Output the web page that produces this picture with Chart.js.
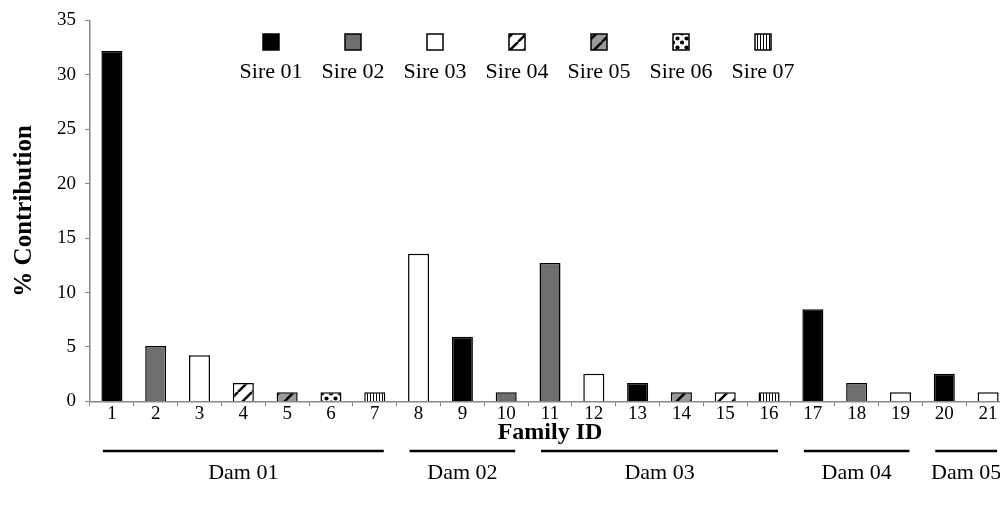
<!DOCTYPE html>
<html>
<head>
<meta charset="utf-8">
<script src="https://cdn.jsdelivr.net/npm/chart.js@4"></script>
<style>
  html, body { margin: 0; padding: 0; background: #fff; overflow: hidden; }
  #wrap { width: 1000px; height: 509px; overflow: hidden; }
</style>
</head>
<body>
<div id="wrap"><canvas id="chart" width="1012" height="509"></canvas></div>
<script>
const families = ["1","2","3","4","5","6","7","8","9","10","11","12","13","14","15","16","17","18","19","20","21"];
const contribution = [32.2, 5.08, 4.24, 1.69, 0.85, 0.85, 0.85, 13.56, 5.93, 0.85, 12.71, 2.54, 1.69, 0.85, 0.85, 0.85, 8.47, 1.69, 0.85, 2.54, 0.85];
const familySire = [1, 2, 3, 4, 5, 6, 7, 3, 1, 2, 2, 3, 1, 5, 4, 7, 1, 2, 3, 1, 3];
const sireNames = ["Sire 01", "Sire 02", "Sire 03", "Sire 04", "Sire 05", "Sire 06", "Sire 07"];
const damNames = ["Dam 01", "Dam 02", "Dam 03", "Dam 04", "Dam 05"];
const damFirst = [1, 8, 11, 17, 20];
const damLast = [7, 10, 16, 19, 21];
const yTicks = [0, 5, 10, 15, 20, 25, 30, 35];

const FONT = "'Liberation Serif', 'Times New Roman', serif";

function tile(size, draw) {
  const c = document.createElement("canvas");
  c.width = size; c.height = size;
  const g = c.getContext("2d");
  draw(g, size);
  return g.createPattern(c, "repeat");
}

function diag(bg) {
  return tile(14, (g, s) => {
    g.fillStyle = bg; g.fillRect(0, 0, s, s);
    g.strokeStyle = "#000"; g.lineWidth = 2.5;
    for (let o = -s; o <= s; o += s) {
      g.beginPath(); g.moveTo(o, s); g.lineTo(o + s, 0); g.stroke();
    }
  });
}

const sireFills = [
  "#000000",
  "#6e6e6e",
  "#ffffff",
  diag("#ffffff"),
  diag("#9a9a9a"),
  tile(9, (g, s) => {
    g.fillStyle = "#fff"; g.fillRect(0, 0, s, s);
    g.fillStyle = "#000";
    g.beginPath(); g.arc(2.5, 2.5, 2.1, 0, Math.PI * 2); g.fill();
    g.beginPath(); g.arc(7, 6.5, 2.1, 0, Math.PI * 2); g.fill();
  }),
  tile(3, (g, s) => {
    g.fillStyle = "#fff"; g.fillRect(0, 0, s, s);
    g.fillStyle = "#000"; g.fillRect(1, 0, 1, s);
  })
];

const datasets = sireNames.map((name, s) => ({
  label: name,
  data: contribution.map((v, i) => familySire[i] === s + 1 ? v : null),
  backgroundColor: sireFills[s],
  borderColor: "#000",
  borderWidth: 1.5,
  grouped: false,
  barPercentage: 0.48,
  categoryPercentage: 1
}));

const sireLegend = {
  id: "sireLegend",
  afterDraw(chart) {
    const ctx = chart.ctx;
    ctx.save();
    ctx.font = "22px " + FONT;
    ctx.textAlign = "center";
    ctx.textBaseline = "middle";
    chart.data.datasets.forEach((ds, i) => {
      const cx = 271 + i * 82;
      ctx.fillStyle = ds.backgroundColor;
      ctx.fillRect(cx - 8, 34, 16, 16);
      ctx.strokeStyle = "#000"; ctx.lineWidth = 1.5;
      ctx.strokeRect(cx - 8, 34, 16, 16);
      ctx.fillStyle = "#000";
      ctx.fillText(ds.label, cx, 72);
    });
    ctx.restore();
  }
};

const damBrackets = {
  id: "damBrackets",
  afterDraw(chart) {
    const ctx = chart.ctx;
    const x = chart.scales.x;
    ctx.save();
    ctx.strokeStyle = "#000";
    ctx.lineWidth = 2.5;
    ctx.fillStyle = "#000";
    ctx.font = "22px " + FONT;
    ctx.textAlign = "center";
    ctx.textBaseline = "middle";
    damNames.forEach((name, i) => {
      const x0 = x.getPixelForValue(damFirst[i] - 1) - 9;
      const x1 = x.getPixelForValue(damLast[i] - 1) + 9;
      ctx.beginPath(); ctx.moveTo(x0, 451); ctx.lineTo(x1, 451); ctx.stroke();
      ctx.fillText(name, (x0 + x1) / 2, 473);
    });
    ctx.restore();
  }
};

new Chart(document.getElementById("chart"), {
  type: "bar",
  data: { labels: families, datasets: datasets },
  options: {
    responsive: false,
    animation: false,
    devicePixelRatio: 1,
    layout: { padding: { top: 19, right: 2, bottom: 62, left: 10 } },
    plugins: {
      legend: { display: false },
      tooltip: { enabled: false }
    },
    scales: {
      x: {
        grid: { display: true, drawOnChartArea: false, drawTicks: true, tickLength: 5, color: "#888" },
        border: { color: "#888", width: 1.5 },
        ticks: { color: "#000", font: { family: FONT, size: 19 }, padding: -4, maxRotation: 0, autoSkip: false },
        title: { display: true, text: "Family ID", color: "#000", font: { family: FONT, size: 24, weight: "bold" }, padding: { top: -3, bottom: 0 } }
      },
      y: {
        min: 0,
        max: 35,
        afterBuildTicks(axis) { axis.ticks = yTicks.map(v => ({ value: v })); },
        grid: { display: true, drawOnChartArea: false, drawTicks: true, tickLength: 5, color: "#888" },
        border: { color: "#888", width: 1.5 },
        ticks: { color: "#000", font: { family: FONT, size: 19 }, padding: 9 },
        title: { display: true, text: "% Contribution", color: "#000", font: { family: FONT, size: 25, weight: "bold" }, padding: { top: 0, bottom: 8 } }
      }
    }
  },
  plugins: [sireLegend, damBrackets]
});
</script>
</body>
</html>
